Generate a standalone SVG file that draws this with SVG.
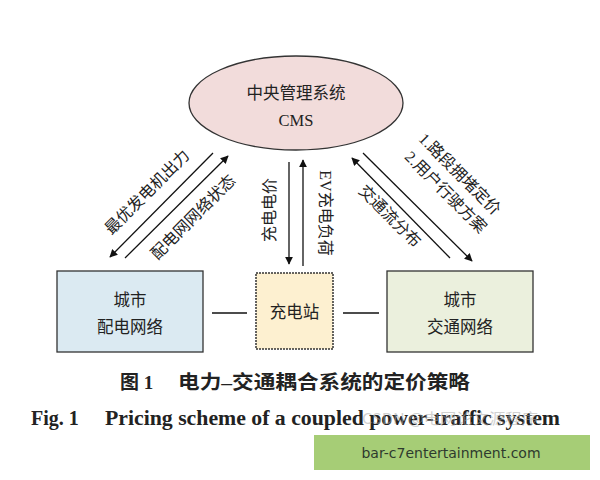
<svg xmlns="http://www.w3.org/2000/svg" width="600" height="480" viewBox="0 0 600 480">
<defs>
<marker id="ah" viewBox="0 0 10 10" refX="9" refY="5" markerWidth="8" markerHeight="8" markerUnits="userSpaceOnUse" orient="auto"><path d="M0,0 L10,5 L0,10 Z" fill="#111"/></marker>
<style>
.t{font-family:'Liberation Serif','Noto Sans CJK SC',serif;fill:#222;}
.n{font-size:16.5px;text-anchor:middle;}
.l{font-size:16px;text-anchor:middle;}
.c{stroke:#111;stroke-width:1.3;fill:none;}
.a{stroke:#111;stroke-width:1.3;fill:none;marker-end:url(#ah);}
</style>
</defs>
<rect width="600" height="480" fill="#fff"/>
<g id="cms">
<ellipse cx="296" cy="103" rx="107" ry="47" fill="#f2dcdb" stroke="#333" stroke-width="1.3"/>
<text class="t n" x="296" y="99">中央管理系统</text>
<text class="t n" x="296" y="126" font-size="17">CMS</text>
</g>
<g id="grid">
<rect x="57" y="271" width="146" height="81" fill="#dbeaf2" stroke="#333" stroke-width="1.3"/>
<text class="t n" x="130" y="306">城市</text>
<text class="t n" x="130" y="333">配电网络</text>
</g>
<g id="station">
<rect x="256" y="273" width="77" height="76" fill="#fdf0d0" stroke="#333" stroke-width="1.5" stroke-dasharray="2,1"/>
<text class="t n" x="294.5" y="318">充电站</text>
</g>
<g id="traffic">
<rect x="387" y="271" width="146" height="81" fill="#ebf0dd" stroke="#333" stroke-width="1.3"/>
<text class="t n" x="460" y="306">城市</text>
<text class="t n" x="460" y="333">交通网络</text>
</g>
<g id="connectors">
<line class="c" x1="212" y1="313" x2="247" y2="313"/>
<line class="c" x1="343" y1="313" x2="379" y2="313"/>
<line class="a" x1="213" y1="153" x2="110" y2="257"/>
<line class="a" x1="125" y1="258" x2="228" y2="156"/>
<line class="a" x1="289" y1="162" x2="289" y2="264"/>
<line class="a" x1="303" y1="266" x2="303" y2="160"/>
<line class="a" x1="450" y1="258" x2="352" y2="158"/>
<line class="a" x1="363" y1="153" x2="472" y2="261"/>
</g>
<g id="labels">
<text class="t l" transform="translate(151,196) rotate(-45)">最优发电机出力</text>
<text class="t l" transform="translate(197,221) rotate(-45)">配电网网络状态</text>
<text class="t l" transform="translate(275,210) rotate(-90)">充电电价</text>
<text class="t l" transform="translate(320,213) rotate(90)">EV充电负荷</text>
<text class="t l" transform="translate(456,178) rotate(45)">1.路段拥堵定价</text>
<text class="t l" transform="translate(442,196) rotate(45)">2.用户行驶方案</text>
<text class="t l" transform="translate(386,220) rotate(45)">交通流分布</text>
</g>
<g id="caption">
<text class="t" x="120" y="389" font-size="19" font-weight="bold" fill="#111">图 1</text>
<text class="t" x="178" y="389" font-size="19" font-weight="bold" fill="#111" textLength="292" lengthAdjust="spacingAndGlyphs">电力–交通耦合系统的定价策略</text>
<text class="t" x="31" y="425" font-size="20" font-weight="bold" fill="#111">Fig. 1</text>
<text class="t" x="105" y="425" font-size="20" font-weight="bold" fill="#111" textLength="455" lengthAdjust="spacingAndGlyphs">Pricing scheme of a coupled power-traffic system</text>
<text x="362" y="424" font-family="Noto Sans CJK SC,sans-serif" font-size="15" fill="#aaa" fill-opacity="0.55" textLength="176" lengthAdjust="spacingAndGlyphs">CSDN @电网论文源程序</text>
</g>
<g id="banner">
<rect x="314" y="435" width="276" height="35" fill="#a6cd76"/>
<text x="451" y="458" font-family="DejaVu Sans,sans-serif" font-size="14" fill="#2e3a2e" text-anchor="middle">bar-c7entertainment.com</text>
</g>
</svg>
